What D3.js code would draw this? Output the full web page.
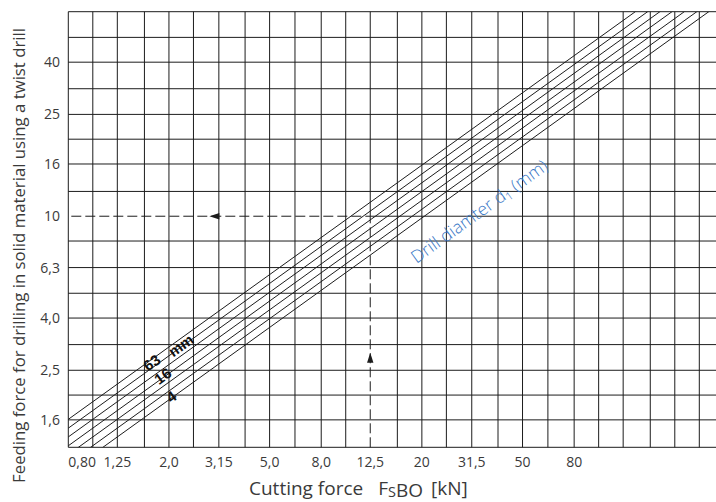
<!DOCTYPE html>
<html><head><meta charset="utf-8">
<script src="https://cdn.jsdelivr.net/npm/d3@7"></script>
<style>
html,body{margin:0;padding:0;background:#fff;}
svg{display:block;font-family:"Open Sans","Liberation Sans",sans-serif;}
</style></head><body>
<svg id="chart" width="716" height="502"></svg>
<script>
// ---- data ----
const xGridValues = [0.8, 1, 1.25, 1.6, 2, 2.5, 3.15, 4, 5, 6.3, 8, 10, 12.5, 16, 20, 25, 31.5, 40, 50, 63, 80, 100, 125, 160, 200, 250];
const yGridValues = [1.25, 1.6, 2, 2.5, 3.15, 4, 5, 6.3, 8, 10, 12.5, 16, 20, 25, 31.5, 40, 50, 63];
const xTickValues = [0.8, 1.25, 2.0, 3.15, 5.0, 8.0, 12.5, 20, 31.5, 50, 80];
const xTickLabels = ["0,80", "1,25", "2,0", "3,15", "5,0", "8,0", "12,5", "20", "31,5", "50", "80"];
const yTickValues = [1.6, 2.5, 4.0, 6.3, 10, 16, 25, 40];
const yTickLabels = ["1,6", "2,5", "4,0", "6,3", "10", "16", "25", "40"];
const drillDiameters = [63, 40, 25, 16, 10, 6.3, 4];
const feedAt1kN = [1.884, 1.740, 1.608, 1.485, 1.372, 1.268, 1.171];
const feedAt100kN = [49.7, 45.9, 42.4, 39.2, 36.2, 33.4, 30.9];
const lineLabels = ["63", "mm", "16", "4"];
const lineLabelCut = [1.71, 2.23, 1.89, 2.04];
const lineLabelFeed = [2.68, 3.13, 2.375, 1.97];
const exampleCut = 12.5, exampleFeed = 10;
const arrowTipCut = 2.89, arrowTipFeed = 2.93;
const noteCut = 33.7, noteFeed = 10.45;

// ---- layout ----
const L = 68.3, R = 699.3, T = 11.7, B = 447.3, EDGE = 716;
const svg = d3.select("#chart");
const x = d3.scaleLog().domain([xGridValues[0], xGridValues[xGridValues.length - 1]]).range([L, R]);
const y = d3.scaleLog().domain([yGridValues[0], yGridValues[yGridValues.length - 1]]).range([B, T]);
const ink = "#1c1c1c", txt = "#3a3a3a";

svg.append("defs").append("clipPath").attr("id", "plot")
  .append("rect").attr("x", L).attr("y", T).attr("width", EDGE - L).attr("height", B - T);

// grid
const g = svg.append("g").attr("stroke", ink).attr("stroke-width", 1).attr("fill", "none");
g.selectAll("line.v").data(xGridValues).join("line").attr("class", "v")
  .attr("x1", d => x(d)).attr("x2", d => x(d))
  .attr("y1", d => d === exampleCut ? y(exampleFeed) : B).attr("y2", T);
g.selectAll("line.h").data(yGridValues).join("line").attr("class", "h")
  .attr("y1", d => y(d)).attr("y2", d => y(d))
  .attr("x1", d => d === exampleFeed ? x(exampleCut) : L).attr("x2", EDGE);

// dashed example
const dash = svg.append("g").attr("stroke", ink).attr("stroke-width", 1).attr("stroke-dasharray", "10,4");
dash.append("line").attr("x1", L + 3).attr("x2", x(exampleCut)).attr("y1", y(exampleFeed)).attr("y2", y(exampleFeed));
dash.append("line").attr("x1", x(exampleCut)).attr("x2", x(exampleCut)).attr("y1", B).attr("y2", y(exampleFeed));
const ax = x(arrowTipCut), ay = y(exampleFeed);
svg.append("path").attr("fill", ink)
  .attr("d", `M${ax},${ay} L${ax + 10},${ay - 3.2} L${ax + 10},${ay + 3.2} Z`);
const bx = x(exampleCut), by = y(arrowTipFeed);
svg.append("path").attr("fill", ink)
  .attr("d", `M${bx},${by} L${bx - 3.2},${by + 10} L${bx + 3.2},${by + 10} Z`);

// diagonal lines
function feed(k, c) {
  const a = Math.log10(feedAt1kN[k]);
  const b = (Math.log10(feedAt100kN[k]) - a) / 2;
  return Math.pow(10, a + b * Math.log10(c));
}
const line = d3.line().x(d => x(d[0])).y(d => y(d[1]));
svg.append("g").attr("clip-path", "url(#plot)")
  .selectAll("path").data(drillDiameters).join("path")
  .attr("fill", "none").attr("stroke", ink).attr("stroke-width", 1)
  .attr("d", (d, k) => line([[0.4, feed(k, 0.4)], [500, feed(k, 500)]]));

const angle = Math.atan2(y(feed(0, 100)) - y(feed(0, 1)), x(100) - x(1)) * 180 / Math.PI;

// line labels
svg.append("g").selectAll("text").data(lineLabels).join("text")
  .attr("transform", (d, i) => `translate(${x(lineLabelCut[i])},${y(lineLabelFeed[i])}) rotate(${angle})`)
  .attr("text-anchor", "middle").attr("dy", "0.36em")
  .attr("font-family", "Liberation Sans, Arial, sans-serif")
  .attr("font-weight", "bold").attr("font-size", 15).attr("fill", "#111")
  .text(d => d);

// blue note
const note = svg.append("text")
  .attr("transform", `translate(${x(noteCut)},${y(noteFeed)}) rotate(${angle})`)
  .attr("text-anchor", "middle").attr("dy", "0.35em")
  .attr("font-size", 17.5).attr("font-weight", 300).attr("fill", "#3a78c6");
note.append("tspan").text("Drill diamter d");
note.append("tspan").attr("font-size", 11.5).attr("dy", 3).text("1");
note.append("tspan").attr("dy", -3).text(" (mm)");

// tick labels
svg.append("g").selectAll("text").data(xTickValues).join("text")
  .attr("x", d => x(d)).attr("y", 466.7)
  .attr("text-anchor", (d, i) => i === 0 ? "start" : "middle")
  .attr("font-size", 14).attr("fill", txt)
  .text((d, i) => xTickLabels[i]);
svg.append("g").selectAll("text").data(yTickValues).join("text")
  .attr("x", 60).attr("y", d => y(d)).attr("dy", "0.36em")
  .attr("text-anchor", "end")
  .attr("font-size", 14).attr("fill", txt)
  .text((d, i) => yTickLabels[i]);

// axis titles
const xt = svg.append("text").attr("x", 249).attr("y", 495)
  .attr("font-size", 19).attr("fill", txt);
xt.append("tspan").text("Cutting force");
xt.append("tspan").attr("dx", 15).text("F");
xt.append("tspan").attr("font-size", 14.5).attr("dy", 2).text("S");
xt.append("tspan").text("BO");
xt.append("tspan").attr("dy", -2).attr("dx", 8).text("[kN]");

const yt = svg.append("text")
  .attr("transform", "translate(24.5,255.5) rotate(-90)")
  .attr("text-anchor", "middle")
  .attr("font-size", 16).attr("fill", txt)
  .text("Feeding force for drilling in solid material using a twist drill");
const len = yt.node().getComputedTextLength();
yt.attr("font-size", 16 * 455 / len);
</script>
</body></html>
